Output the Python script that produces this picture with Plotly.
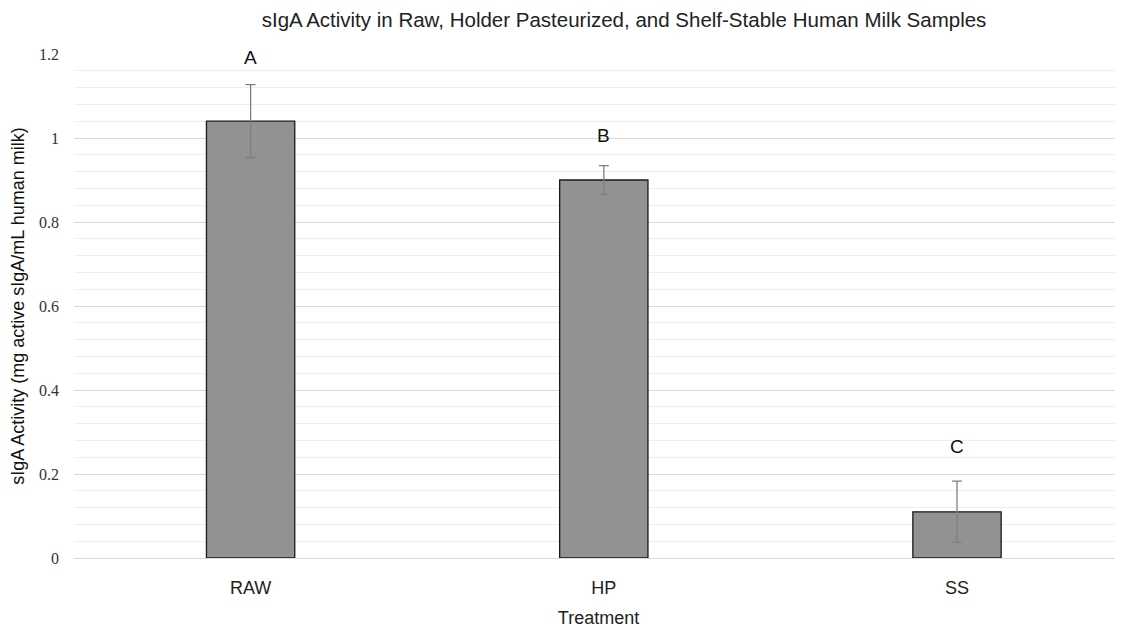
import plotly.graph_objects as go

categories = ["RAW", "HP", "SS"]
values = [1.040, 0.900, 0.110]
errors = [0.087, 0.034, 0.073]
letters = ["A", "B", "C"]
y_ticks = [0, 0.2, 0.4, 0.6, 0.8, 1.0, 1.2]
y_tick_text = ["0", "0.2", "0.4", "0.6", "0.8", "1", "1.2"]

fig = go.Figure()
fig.add_trace(go.Bar(
    x=categories, y=values, width=0.25,
    marker=dict(color="#929292", line=dict(color="#1a1a1a", width=1.3)),
    error_y=dict(type="data", array=errors, visible=True, color="#808080",
                 thickness=1.3, width=5),
))

letter_shift = [27, 30, 35]
for c, v, e, t, s in zip(categories, values, errors, letters, letter_shift):
    fig.add_annotation(x=c, y=v + e, text=t, showarrow=False, yshift=s,
                       font=dict(family="Arial, Liberation Sans", size=19, color="#111111"))

fig.update_layout(
    width=1115, height=622,
    margin=dict(l=66, r=0, t=46, b=72),
    paper_bgcolor="white", plot_bgcolor="white",
    showlegend=False,
    title=dict(text="sIgA Activity in Raw, Holder Pasteurized, and Shelf-Stable Human Milk Samples",
               x=0.5525, xanchor="center", y=0.993, yanchor="top",
               pad=dict(t=0, b=0),
               font=dict(family="Arial, Liberation Sans", size=20.5, color="#222222")),
)
fig.update_xaxes(
    range=[-0.5, 2.47], showgrid=False, showline=False, ticks="",
    tickfont=dict(family="Arial, Liberation Sans", size=18, color="#222222"),
    ticklabelstandoff=17,
    title=dict(text="Treatment", standoff=14,
               font=dict(family="Arial, Liberation Sans", size=18, color="#222222")),
)
fig.update_yaxes(
    range=[0, 1.2], tickvals=y_ticks, ticktext=y_tick_text,
    showgrid=True, gridcolor="#d9d9d9", gridwidth=1.2,
    zeroline=True, zerolinecolor="#d9d9d9", zerolinewidth=1.2,
    minor=dict(dtick=0.04, showgrid=True, gridcolor="#eeeeee", gridwidth=1),
    tickfont=dict(family="Liberation Serif, Times New Roman", size=16, color="#333333"),
    ticklabelstandoff=14,
    title=dict(text="sIgA Activity (mg active sIgA/mL human milk)", standoff=16,
               font=dict(family="Arial, Liberation Sans", size=18, color="#111111")),
)

fig.write_html("out.html")
